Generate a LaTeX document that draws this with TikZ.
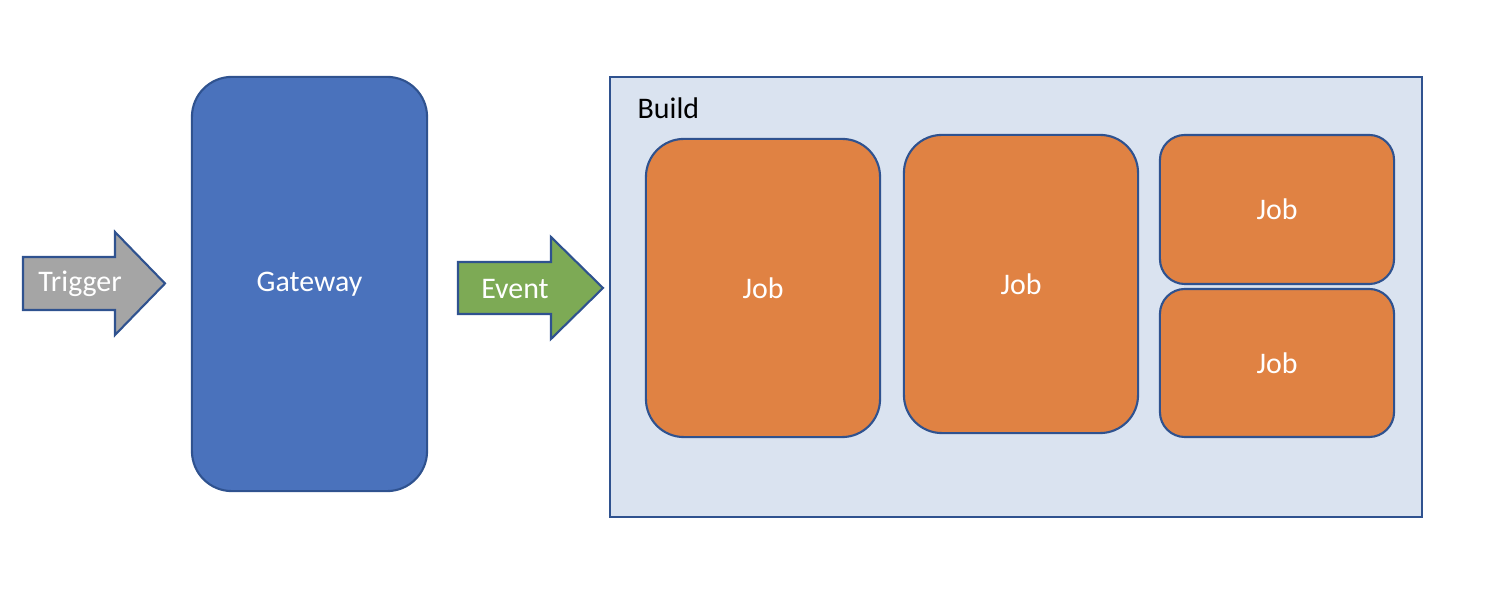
\documentclass[tikz,border=0pt]{standalone}
\usepackage{fontspec}
\setmainfont{Carlito}
\usepackage{tikz}
\definecolor{outline}{HTML}{2F528F}
\definecolor{gatefill}{HTML}{4A72BC}
\definecolor{jobfill}{HTML}{E08243}
\definecolor{trigfill}{HTML}{A5A5A5}
\definecolor{eventfill}{HTML}{7DAA55}
\definecolor{buildfill}{HTML}{DAE3F0}
\tikzset{
  lbl/.style={text=white, font=\fontsize{8.5}{10}\selectfont, inner sep=0pt},
  box/.style={draw=outline, line width=0.6pt, lbl},
  job/.style={box, fill=jobfill, minimum width=2.34cm},
  blockarrow/.style={draw=outline, line width=0.6pt},
}

\begin{document}
\begin{tikzpicture}[x=0.01cm, y=-0.01cm]
    \useasboundingbox (0,0) rectangle (1490,610);

    % block arrows
    \draw[blockarrow, fill=trigfill] (23,257) -- (115,257) -- (115,232) -- (165,283.5)
        -- (115,335) -- (115,310) -- (23,310) -- cycle;
    \node[lbl] at (80,284) (trigger) {Trigger};
    \draw[blockarrow, fill=eventfill] (458,262) -- (551,262) -- (551,237) -- (603,288)
        -- (551,339) -- (551,314) -- (458,314) -- cycle;
    \node[lbl] at (515,289) (event) {Event};

    \node[box, fill=gatefill, rounded corners=0.4cm, minimum width=2.35cm, minimum height=4.14cm]
        at (309.5,284) (gateway) {Gateway};

    % build container
    \node[draw=outline, line width=0.6pt, fill=buildfill, minimum width=8.12cm, minimum height=4.40cm]
        at (1016,297) (build) {};
    \node[anchor=base west, inner sep=0pt, font=\fontsize{8.5}{10}\selectfont] at (637,119) (buildlabel) {Build};

    \node[job, rounded corners=0.38cm, minimum height=2.98cm] at (763,288) (job1) {Job};
    \node[job, rounded corners=0.38cm, minimum height=2.98cm] at (1021,284) (job2) {Job};
    \node[job, rounded corners=0.25cm, minimum height=1.49cm] at (1277,209.5) (job3) {Job};
    \node[job, rounded corners=0.25cm, minimum height=1.48cm] at (1277,363) (job4) {Job};
\end{tikzpicture}
\end{document}
